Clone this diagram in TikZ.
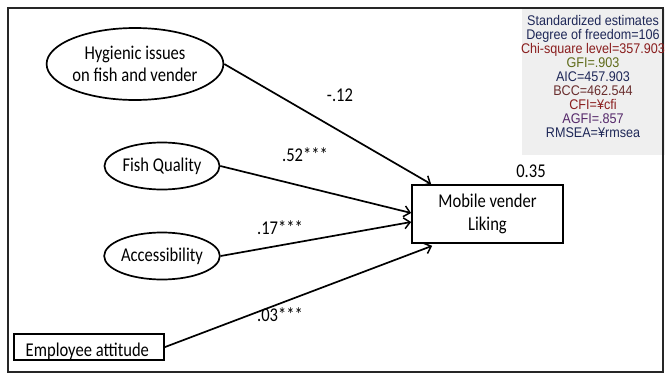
\documentclass[tikz,border=0pt]{standalone}
\usepackage{fontspec}
\setmainfont{Carlito}[FakeStretch=0.85]
\newfontfamily\statfont{Liberation Sans}[FakeStretch=0.9]
\usetikzlibrary{arrows.meta,shapes.geometric}

\definecolor{stnavy}{HTML}{1F2858}
\definecolor{stred}{HTML}{8A1E1E}
\definecolor{stolive}{HTML}{5E6A18}
\definecolor{stbrown}{HTML}{6A2E2E}
\definecolor{stpurple}{HTML}{55286A}
\definecolor{panel}{HTML}{EFEFEF}

\begin{document}
\begin{tikzpicture}[x=1pt,y=-1pt,
  txt/.style={font=\fontsize{19.5}{22.5}\selectfont, text=black},
  latent/.style={txt, ellipse, draw, line width=1.7pt, inner sep=0pt, align=center},
  observed/.style={txt, draw, line width=1.7pt, inner sep=0pt},
  path/.style={line width=1.7pt, -{Straight Barb[length=6pt,width=11pt,line width=1.5pt]}},
  coef/.style={txt, inner sep=1pt},
  stat/.style={font=\statfont\fontsize{14}{14}\selectfont, align=center, inner sep=0pt}]

\useasboundingbox (0,0) rectangle (665,375);

% statistics panel and outer frame
\fill[panel] (522,9) rectangle (665,155);
\draw[line width=1.5pt, black!85] (8,8) rectangle (663,372);

% exogenous variables
\node[latent, minimum width=170pt, minimum height=72pt] (hyg) at (135,64)
  {Hygienic issues\\on fish and vender};
\node[latent, minimum width=115pt, minimum height=47pt] (fish) at (162,166) {Fish Quality};
\node[latent, minimum width=115pt, minimum height=47pt] (acc) at (162,256) {Accessibility};
\node[observed, anchor=south west, minimum width=150pt,
      text height=22pt, text depth=4pt] (emp) at (13,361)
  {\hspace*{9pt}Employee attitude\hspace*{12pt}};

% endogenous variable
\node[observed, align=center, minimum width=151pt, minimum height=58pt] (mob) at (487.5,214)
  {Mobile vender\\Liking};
\node[coef] (r2) at (531,171) {0.35};

% structural paths
\draw[path] (hyg.east) -- ([xshift=20pt]mob.north west);
\draw[path] (fish.east) -- ([yshift=1pt]mob.west);
\draw[path] (acc.east) -- ([yshift=-8pt]mob.west);
\draw[path] (emp.east) -- ([xshift=21pt,yshift=-2pt]mob.south west);

% path coefficients
\node[coef] (c1) at (340,95) {-.12};
\node[coef] (c2) at (305,155) {.52***};
\node[coef] (c3) at (280,228) {.17***};
\node[coef] (c4) at (280,315) {.03***};

% fit statistics
\node[stat] (fit) at (593,76) {%
  \textcolor{stnavy}{Standardized estimates}\\
  \textcolor{stnavy}{Degree of freedom=106}\\
  \textcolor{stred}{Chi-square level=357.903}\\
  \textcolor{stolive}{GFI=.903}\\
  \textcolor{stnavy}{AIC=457.903}\\
  \textcolor{stbrown}{BCC=462.544}\\
  \textcolor{stred}{CFI=¥cfi}\\
  \textcolor{stpurple}{AGFI=.857}\\
  \textcolor{stnavy}{RMSEA=¥rmsea}};

\end{tikzpicture}
\end{document}
